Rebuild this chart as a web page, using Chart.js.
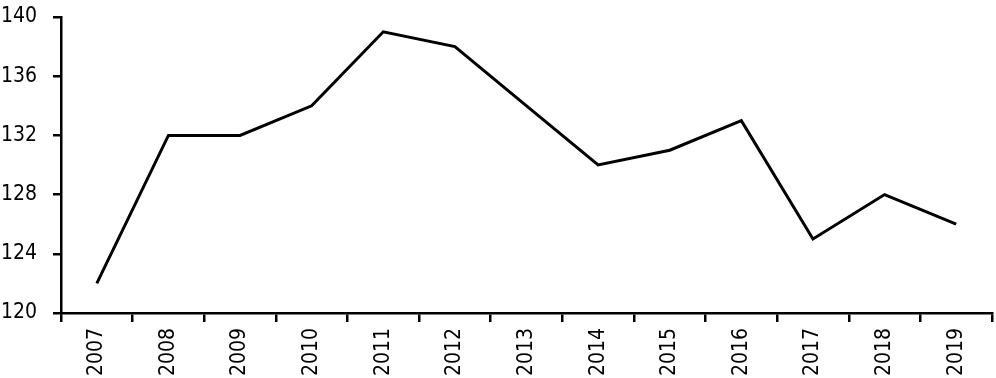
<!DOCTYPE html>
<html>
<head>
<meta charset="utf-8">
<script src="https://cdn.jsdelivr.net/npm/chart.js@4/dist/chart.umd.min.js"></script>
<style>
html,body{margin:0;padding:0;background:#fff;}
#wrap{width:996px;height:378px;position:relative;}
</style>
</head>
<body>
<div id="wrap"><canvas id="c" width="996" height="378"></canvas></div>
<script>
const categories = ['2007','2008','2009','2010','2011','2012','2013','2014','2015','2016','2017','2018','2019'];
const values = [122,132,132,134,139,138,134,130,131,133,125,128,126];
const yTicks = [120,124,128,132,136,140];

const font = {family:"'DejaVu Sans Condensed', 'DejaVu Sans', sans-serif", size:21};

new Chart(document.getElementById('c'), {
  type:'line',
  data:{labels:categories, datasets:[{data:values, borderColor:'#000', borderWidth:3, pointRadius:0, tension:0, fill:false}]},
  options:{
    responsive:false, animation:false,
    layout:{padding:{top:17,right:4,left:0,bottom:0}},
    plugins:{legend:{display:false}, tooltip:{enabled:false}},
    scales:{
      x:{
        offset:true,
        afterFit:(s)=>{s.paddingLeft=0; s.paddingRight=0; s.height=65;},
        grid:{offset:true, drawOnChartArea:false, drawTicks:true, tickLength:9, color:'#000', lineWidth:2.5},
        border:{display:true, color:'#000', width:2.5},
        ticks:{color:'#000', font:font, minRotation:90, maxRotation:90, padding:6, autoSkip:false}
      },
      y:{
        min:120, max:140,
        afterBuildTicks:(ax)=>{ax.ticks = yTicks.map(v=>({value:v}));},
        afterFit:(s)=>{s.paddingTop=0; s.paddingBottom=0; s.width=61;},
        grid:{drawOnChartArea:false, drawTicks:true, tickLength:8, color:'#000', lineWidth:2.5},
        border:{display:true, color:'#000', width:2.5},
        ticks:{color:'#000', font:font, padding:16}
      }
    }
  }
});
</script>
</body>
</html>
